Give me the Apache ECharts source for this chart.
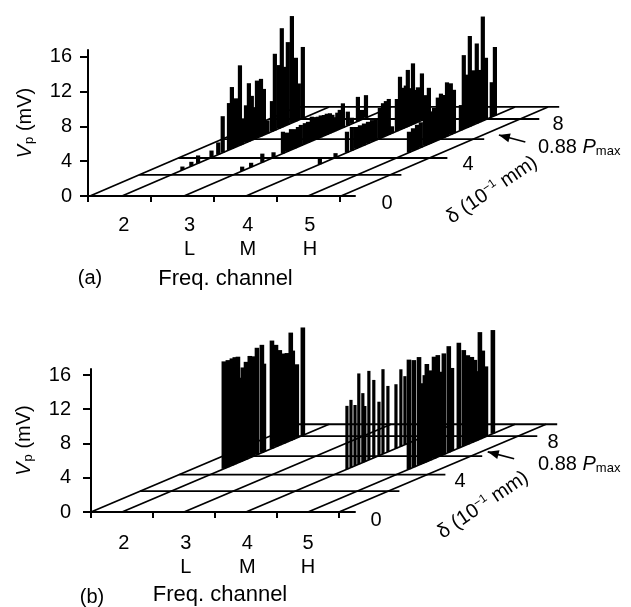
<!DOCTYPE html>
<html>
<head>
<meta charset="utf-8">
<script src="https://cdn.jsdelivr.net/npm/echarts@6/dist/echarts.min.js"></script>
<style>html,body{margin:0;background:#fff}#main{width:631px;height:607px}</style>
</head>
<body>
<div id="main"></div>
<script>
// (a) depth and peak voltage per frequency channel
const aCh2Delta = [2.7,3.1,3.4,4.0,4.3,4.5,4.78,4.91,5.09,5.27,5.36,5.54,5.67,5.80,5.89,6.03,6.21,6.34,6.5,6.70,6.83,7.01,7.14,7.28,7.41,7.59,7.77,7.90,8.08]
const aCh2Volts = [0.4,0.5,0.9,0.8,1.4,4.2,5.4,7.1,5.6,9.2,3.0,4.3,6.7,5.1,3.7,6.6,6.6,5.3,1.5,3.5,8.8,7.3,11.4,6.8,9.5,12.3,7.3,4.2,8.2]
const aCh3Delta = [2.6,3.0,3.5,4.0,4.42,4.6,4.78,4.96,5.09,5.22,5.4,5.54,5.71,5.85,5.98,6.11,6.25,6.38,6.52,6.63,6.74,6.85,6.96,7.1,7.32,7.5,7.77,7.95,8.13]
const aCh3Volts = [0.5,0.5,1.0,0.6,2.5,2.2,2.4,2.2,2.3,2.4,2.4,2.4,2.8,2.6,2.5,2.5,2.4,2.4,2.3,2.0,1.6,2.0,2.2,2.8,1.6,0.7,2.8,1.1,2.6]
const aCh4Delta = [3.3,4.0,4.51,4.73,4.91,5.09,5.27,5.45,5.63,5.80,5.98,6.12,6.25,6.38,6.52,6.74,6.88,7.0,7.14,7.23,7.32,7.46,7.59,7.68,7.86,8.04,8.17]
const aCh4Volts = [0.7,0.5,2.4,2.7,2.5,2.5,2.5,2.5,2.5,2.4,3.5,3.9,4.0,4.1,0.8,3.7,6.1,4.7,4.8,6.5,4.3,7.0,3.8,4.0,5.4,2.7,3.4]
const aCh5Delta = [4.51,4.69,4.87,5.04,5.22,5.33,5.45,5.54,5.63,5.80,5.94,6.07,6.21,6.38,6.52,6.83,6.96,7.10,7.23,7.37,7.54,7.68,7.81,7.95,8.21,8.35]
const aCh5Volts = [2.4,2.6,2.8,2.9,3.2,3.2,3.3,3.6,3.9,4.9,5.2,4.9,6.2,5.9,5.0,2.9,8.5,6.1,10.4,6.3,9.2,6.0,12.0,7.1,4.0,7.9]

// (b)
const bCh2Delta = [4.55,4.73,4.91,5.04,5.18,5.31,5.40,5.54,5.71,5.85,6.03,6.25,6.34,6.70,6.88,7.05,7.23,7.37,7.54,7.63,7.81,8.08]
const bCh2Volts = [12.55,12.5,12.5,12.5,12.4,9.8,10.9,11.4,11.9,11.7,12.5,12.6,10.3,12.6,11.9,11.1,10.5,10.4,12.6,10.4,8.6,12.6]
const bCh4Delta = [4.51,4.69,4.87,5.04,5.22,5.31,5.49,5.71,5.94,6.12,6.34,6.70,6.92,7.10]
const bCh4Volts = [7.4,7.9,7.1,10.6,8.1,6.5,10.4,9.1,6.3,9.9,7.7,7.5,9.0,8.0]
const bCh5Delta = [4.51,4.73,4.96,5.09,5.22,5.31,5.45,5.63,5.80,5.94,6.07,6.29,6.43,6.74,6.96,7.14,7.32,7.46,7.54,7.68,7.81,7.95,8.26]
const bCh5Volts = [12.8,12.5,12.6,9.4,10.2,11.4,10.5,11.9,11.9,9.8,11.8,12.4,9.7,12.3,11.2,10.4,10.0,9.5,8.1,12.5,10.2,8.2,12.1]

const channelLabels = {2: '2', 3: '3\nL', 4: '4\nM', 5: '5\nH'}
const depthLevels = [0,2.2,3.95,5.9,8,9.25]
const depthOverhang = [0.23,0.18,0.29,0.18,0.31,0.18]
const channelLines = [2,3,4,5]
const depthEnd = 9.25

// oblique projection: each unit of delta moves right and up on the same axes
const SKEW_X = 0.361
const SKEW_Y = 1.1076
const project = (c, d, v) => [c + d * SKEW_X, v + d * SKEW_Y]

function rows(list) {
  let out = []
  list.forEach(([c, ds, vs]) => ds.forEach((d, i) => out.push([c, d, vs[i]])))
  return out
}

function barSeries(idx, data, width) {
  return {
    type: 'custom', xAxisIndex: idx, yAxisIndex: idx, z: 3, silent: true,
    data: data,
    renderItem: (params, api) => {
      let c = api.value(0), d = api.value(1), v = api.value(2)
      let p0 = api.coord(project(c, d, 0))
      let p1 = api.coord(project(c, d, v))
      return {
        type: 'rect',
        shape: {x: p0[0] - width / 2, y: p1[1], width: width, height: p0[1] - p1[1]},
        style: {fill: '#000'}
      }
    }
  }
}

function floorSeries(idx, left, right) {
  let lines = []
  ;[left, ...channelLines, right].forEach(c => lines.push([c, 0, c, depthEnd]))
  depthLevels.forEach((d, i) => { if (i > 0) lines.push([left, d, right + depthOverhang[i], d]) })
  return {
    type: 'custom', xAxisIndex: idx, yAxisIndex: idx, z: 2, silent: true,
    data: lines,
    renderItem: (params, api) => {
      let a = api.coord(project(api.value(0), api.value(1), 0))
      let b = api.coord(project(api.value(2), api.value(3), 0))
      return {
        type: 'line',
        shape: {x1: a[0], y1: a[1], x2: b[0], y2: b[1]},
        style: {stroke: '#000', lineWidth: 1.8}
      }
    }
  }
}

function arrowSeries(idx, from, to) {
  return {
    type: 'custom', xAxisIndex: idx, yAxisIndex: idx, z: 4, silent: true,
    data: [[from[0], from[1], to[0], to[1]]],
    renderItem: (params, api) => {
      let a = api.coord(project(api.value(0), api.value(1), 0))
      let b = api.coord(project(api.value(2), api.value(3), 0))
      let ang = Math.atan2(b[1] - a[1], b[0] - a[0])
      let wing = s => [b[0] - 11 * Math.cos(ang) + s * 4.5 * Math.sin(ang), b[1] - 11 * Math.sin(ang) - s * 4.5 * Math.cos(ang)]
      return {
        type: 'group',
        children: [
          {type: 'line', shape: {x1: a[0], y1: a[1], x2: b[0], y2: b[1]}, style: {stroke: '#000', lineWidth: 1.7}},
          {type: 'polygon', shape: {points: [b, wing(1), wing(-1)]}, style: {fill: '#000'}}
        ]
      }
    }
  }
}

const font = '"Liberation Sans", Arial, sans-serif'
const size = 20

function xAxis(idx, min, max, ticks, labelAt, labelMargin, nameGap, namePad) {
  return {
    type: 'value', gridIndex: idx, min: min, max: max,
    name: 'Freq. channel', nameLocation: 'middle', nameGap: nameGap,
    nameTextStyle: {color: '#000', fontFamily: font, fontSize: 22, padding: namePad},
    axisLine: {show: true, onZero: false, lineStyle: {color: '#000', width: 2}},
    axisTick: {show: true, customValues: ticks, length: 6, lineStyle: {color: '#000', width: 2}},
    axisLabel: {
      customValues: labelAt, margin: labelMargin, color: '#000',
      fontFamily: font, fontSize: size, lineHeight: 24,
      formatter: v => channelLabels[Math.round(v)]
    },
    splitLine: {show: false}
  }
}

function yAxis(idx, max, labelMargin, nameGap) {
  return {
    type: 'value', gridIndex: idx, min: 0, max: max, interval: 4,
    name: '{i|V}{s|p} (mV)', nameLocation: 'middle', nameRotate: 90, nameGap: nameGap,
    nameTextStyle: {
      color: '#000', fontFamily: font, fontSize: size,
      rich: {
        i: {fontFamily: font, fontSize: size, fontStyle: 'italic', color: '#000'},
        s: {fontFamily: font, fontSize: 13, color: '#000', padding: [8, 0, 0, 1]}
      }
    },
    axisLine: {show: true, onZero: false, lineStyle: {color: '#000', width: 2}},
    axisTick: {show: true, length: 8, lineStyle: {color: '#000', width: 2}},
    axisLabel: {margin: labelMargin, color: '#000', fontFamily: font, fontSize: size},
    splitLine: {show: false}
  }
}

function text(str, x, y, extra, rotation) {
  return {
    type: 'text', x: x, y: y, rotation: rotation || 0, silent: true,
    style: Object.assign({text: str, fill: '#000', font: size + 'px ' + font, align: 'center', verticalAlign: 'middle'}, extra || {})
  }
}

const pmaxRich = {
  i: {fontFamily: font, fontSize: size, fontStyle: 'italic', fill: '#000'},
  s: {fontFamily: font, fontSize: 13, fill: '#000', padding: [9, 0, 0, 0]}
}
const deltaRich = {
  sup: {fontFamily: font, fontSize: 12, fill: '#000', padding: [0, 0, 10, 0]}
}
const slant = 34 * Math.PI / 180

var chart = echarts.init(document.getElementById('main'))

chart.setOption({
  animation: false,
  backgroundColor: '#fff',
  grid: [
    {left: 88, top: 50, width: 267, height: 146},
    {left: 91, top: 369, width: 264, height: 145}
  ],
  xAxis: [
    xAxis(0, 1.452, 5.758, [1.452, 2.468, 3.484, 4.5, 5.516], [2.03, 3.09, 4.03, 5.03], 17, 72, [0, 0, 0, 8]),
    xAxis(1, 1.5, 5.758, [1.5, 2.5, 3.5, 4.5, 5.5], [2.03, 3.03, 4.02, 5], 19, 72, [0, 6, 0, 0])
  ],
  yAxis: [yAxis(0, 16.8, 16, 52), yAxis(1, 16.7, 20, 56)],
  series: [
    floorSeries(0, 1.484, 5.532),
    barSeries(0, rows([[2, aCh2Delta, aCh2Volts], [3, aCh3Delta, aCh3Volts], [4, aCh4Delta, aCh4Volts], [5, aCh5Delta, aCh5Volts]]), 4.2),
    arrowSeries(0, [6.48, 5.61], [5.79, 6.34]),
    floorSeries(1, 1.5, 5.5),
    barSeries(1, rows([[2, bCh2Delta, bCh2Volts], [5, bCh5Delta, bCh5Volts]]), 4.6),
    barSeries(1, rows([[4, bCh4Delta, bCh4Volts]]), 3.2),
    arrowSeries(1, [6.3, 5.61], [5.61, 6.34])
  ],
  graphic: [
    text('(a)', 90, 278),
    text('0', 387, 203), text('4', 468, 164), text('8', 558, 124),
    text('0.88 {i|P}{s|max}', 538, 147, {align: 'left', rich: pmaxRich}),
    text('δ (10{sup|−1} mm)', 492, 190, {rich: deltaRich}, slant),
    text('(b)', 92, 597),
    text('0', 376, 520), text('4', 460, 481), text('8', 553, 442),
    text('0.88 {i|P}{s|max}', 538, 464, {align: 'left', rich: pmaxRich}),
    text('δ (10{sup|−1} mm)', 483, 505, {rich: deltaRich}, slant)
  ]
})
</script>
</body>
</html>
